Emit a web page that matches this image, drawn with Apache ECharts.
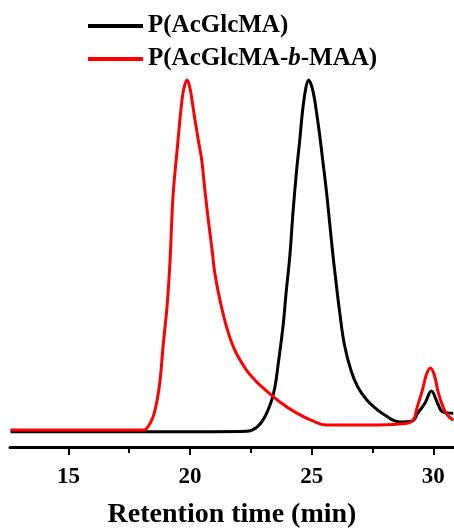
<!DOCTYPE html>
<html><head><meta charset="utf-8">
<script src="https://cdn.jsdelivr.net/npm/echarts@6/dist/echarts.min.js"></script>
<style>html,body{margin:0;padding:0;background:#fff;}#c{width:454px;height:529px;}</style>
</head><body><div id="c"></div>
<script>
const xTicks = [15, 20, 25, 30];
const xMinorTicks = [17.5, 22.5, 27.5];
const blackName = 'P(AcGlcMA)';
const redName = 'P(AcGlcMA-b-MAA)';
const blackTime = [12.62, 15.0, 18.0, 21.0, 22.34, 22.75, 23.07, 23.36, 23.50, 23.61, 23.82, 23.96, 24.10, 24.23, 24.37, 24.51, 24.63, 24.76, 24.88, 25.00, 25.10, 25.20, 25.33, 25.46, 25.60, 25.74, 25.87, 26.01, 26.15, 26.35, 26.63, 26.90, 27.25, 27.60, 27.91, 28.61, 29.14, 29.36, 29.66, 29.92, 30.17, 30.40, 30.82];
const blackSignal = [-0.002, -0.002, -0.002, -0.002, -0.001, 0.011, 0.04, 0.089, 0.13, 0.184, 0.298, 0.403, 0.498, 0.623, 0.737, 0.831, 0.917, 0.98, 1.003, 0.985, 0.955, 0.91, 0.845, 0.77, 0.689, 0.594, 0.505, 0.42, 0.34, 0.245, 0.17, 0.125, 0.09, 0.066, 0.05, 0.026, 0.029, 0.051, 0.08, 0.114, 0.08, 0.054, 0.051];
const redTime = [12.62, 14.5, 16.3, 17.5, 18.07, 18.24, 18.48, 18.65, 18.77, 18.89, 19.06, 19.18, 19.30, 19.47, 19.67, 19.77, 19.88, 19.98, 20.08, 20.20, 20.34, 20.48, 20.61, 20.75, 20.89, 21.02, 21.23, 21.50, 21.84, 22.32, 22.66, 23.0, 23.69, 24.39, 25.04, 25.61, 26.15, 27.38, 28.61, 29.14, 29.34, 29.55, 29.71, 29.88, 30.04, 30.20, 30.37, 30.57, 30.82];
const redSignal = [0.003, 0.003, 0.003, 0.003, 0.003, 0.009, 0.04, 0.089, 0.146, 0.24, 0.36, 0.489, 0.67, 0.803, 0.946, 0.985, 1.003, 0.985, 0.946, 0.89, 0.831, 0.774, 0.689, 0.603, 0.527, 0.451, 0.374, 0.298, 0.231, 0.174, 0.146, 0.123, 0.083, 0.051, 0.029, 0.017, 0.017, 0.017, 0.02, 0.029, 0.069, 0.117, 0.16, 0.18, 0.16, 0.111, 0.074, 0.046, 0.031];

const pairs = (t, v) => t.map((x, i) => [x, v[i]]);
const serif = '"Liberation Serif", "Times New Roman", serif';
const chart = echarts.init(document.getElementById('c'), null, {renderer: 'canvas'});
chart.setOption({
  backgroundColor: '#ffffff',
  animation: false,
  grid: {left: 10, right: 0, top: 0, bottom: 82, containLabel: false, outerBoundsMode: 'none'},
  legend: {
    orient: 'vertical', left: 83, top: 7, itemWidth: 55, itemHeight: 4, itemGap: 5, icon: 'rect',
    textStyle: {fontFamily: serif, fontWeight: 'bold', fontSize: 25, lineHeight: 28, color: '#000',
      rich: {i: {fontFamily: serif, fontWeight: 'bold', fontStyle: 'italic', fontSize: 25, color: '#000'}}},
    formatter: n => n.replace('-b-', '-{i|b}-'),
    data: [blackName, redName]
  },
  xAxis: [{
    type: 'value', min: 12.6, max: 30.85,
    name: 'Retention time (min)', nameLocation: 'middle', nameGap: 54,
    nameTextStyle: {fontFamily: serif, fontWeight: 'bold', fontSize: 28, color: '#000'},
    axisLine: {show: true, onZero: false, lineStyle: {color: '#000', width: 3}},
    axisTick: {show: true, length: 8, lineStyle: {color: '#000', width: 2}, customValues: xTicks},
    minorTick: {show: false},
    axisLabel: {fontFamily: serif, fontWeight: 'bold', fontSize: 23, color: '#000', margin: 19,
      customValues: xTicks},
    splitLine: {show: false}
  }, {
    type: 'value', min: 12.6, max: 30.85, position: 'bottom',
    axisLine: {show: false, onZero: false},
    axisTick: {show: true, length: 6, lineStyle: {color: '#000', width: 2}, customValues: xMinorTicks},
    axisLabel: {show: false},
    splitLine: {show: false}
  }],
  yAxis: {type: 'value', min: -0.0457, max: 1.2314, show: false, splitLine: {show: false}},
  series: [
    {name: blackName, type: 'line', data: pairs(blackTime, blackSignal), showSymbol: false, smooth: 0.4,
     lineStyle: {color: '#000', width: 3}, itemStyle: {color: '#000'}, z: 2},
    {name: redName, type: 'line', data: pairs(redTime, redSignal), showSymbol: false, smooth: 0.4,
     lineStyle: {color: '#ff0000', width: 3}, itemStyle: {color: '#ff0000'}, z: 3}
  ]
});
</script></body></html>
